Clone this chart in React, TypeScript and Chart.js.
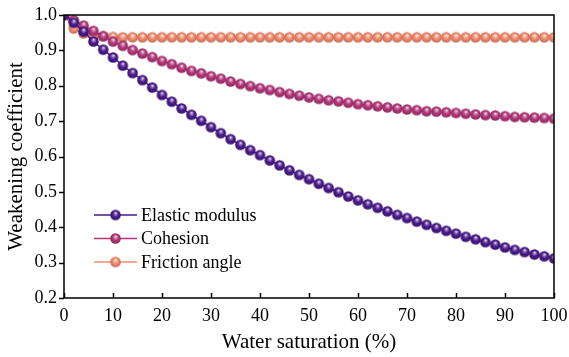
import React, { useEffect, useRef } from "react";
import { Chart, registerables } from "chart.js";

Chart.register(...registerables);

const saturation = [0, 2, 4, 6, 8, 10, 12, 14, 16, 18, 20, 22, 24, 26, 28, 30, 32, 34, 36, 38, 40, 42, 44, 46, 48, 50, 52, 54, 56, 58, 60, 62, 64, 66, 68, 70, 72, 74, 76, 78, 80, 82, 84, 86, 88, 90, 92, 94, 96, 98, 100];

const elasticModulus = [1.0, 0.978, 0.953, 0.925, 0.902, 0.88, 0.857, 0.836, 0.816, 0.795, 0.774, 0.755, 0.736, 0.718, 0.701, 0.683, 0.666, 0.649, 0.633, 0.618, 0.604, 0.589, 0.575, 0.561, 0.548, 0.536, 0.523, 0.511, 0.499, 0.487, 0.476, 0.465, 0.455, 0.445, 0.435, 0.426, 0.416, 0.407, 0.398, 0.39, 0.382, 0.373, 0.366, 0.358, 0.351, 0.343, 0.336, 0.33, 0.323, 0.318, 0.312];

const cohesion = [1.0, 0.985, 0.97, 0.955, 0.94, 0.925, 0.913, 0.901, 0.891, 0.881, 0.87, 0.861, 0.851, 0.842, 0.835, 0.827, 0.82, 0.812, 0.805, 0.799, 0.793, 0.788, 0.782, 0.777, 0.772, 0.767, 0.763, 0.759, 0.756, 0.752, 0.748, 0.745, 0.742, 0.739, 0.736, 0.733, 0.731, 0.728, 0.727, 0.725, 0.723, 0.721, 0.719, 0.717, 0.716, 0.714, 0.712, 0.711, 0.71, 0.709, 0.707];

const frictionAngle = [1.0, 0.962, 0.948, 0.942, 0.94, 0.938, 0.937, 0.937, 0.937, 0.937, 0.937, 0.937, 0.937, 0.937, 0.937, 0.937, 0.937, 0.937, 0.937, 0.937, 0.937, 0.937, 0.937, 0.937, 0.937, 0.937, 0.937, 0.937, 0.937, 0.937, 0.937, 0.937, 0.937, 0.937, 0.937, 0.937, 0.937, 0.937, 0.937, 0.937, 0.937, 0.937, 0.937, 0.937, 0.937, 0.937, 0.937, 0.937, 0.937, 0.937, 0.937];

const seriesLabels = ["Elastic modulus", "Cohesion", "Friction angle"];
const seriesColors = ["#4b1a8c", "#b3367a", "#f48a6e"];
const yTicks = [0.2, 0.3, 0.4, 0.5, 0.6, 0.7, 0.8, 0.9, 1.0];
const xTicks = [0, 10, 20, 30, 40, 50, 60, 70, 80, 90, 100];

const FONT = '"Liberation Serif", "Times New Roman", serif';

function hexToRgb(h: string) {
  const n = parseInt(h.slice(1), 16);
  return [(n >> 16) & 255, (n >> 8) & 255, n & 255];
}
function mix(a: string, b: string, t: number) {
  const A = hexToRgb(a), B = hexToRgb(b);
  const c = A.map((v, i) => Math.round(v + (B[i] - v) * t));
  return `rgb(${c[0]},${c[1]},${c[2]})`;
}

function makeSphere(color: string, r: number) {
  const size = Math.ceil(r * 2) + 2;
  const c = document.createElement("canvas");
  c.width = size;
  c.height = size;
  const g = c.getContext("2d")!;
  const cx = size / 2, cy = size / 2;
  const grad = g.createRadialGradient(cx + r * 0.05, cy - r * 0.4, 0, cx, cy, r);
  grad.addColorStop(0, "rgba(255,255,255,0.95)");
  grad.addColorStop(0.25, mix(color, "#ffffff", 0.4));
  grad.addColorStop(0.55, color);
  grad.addColorStop(1, mix(color, "#000000", 0.22));
  g.fillStyle = grad;
  g.beginPath();
  g.arc(cx, cy, r, 0, Math.PI * 2);
  g.fill();
  return c;
}

export default function App() {
  const ref = useRef<HTMLCanvasElement>(null);

  useEffect(() => {
    const canvas = ref.current!;
    const spheres = seriesColors.map((c) => makeSphere(c, 5.3));
    const seriesValues = [elasticModulus, cohesion, frictionAngle];

    const framePlugin = {
      id: "frame",
      afterDraw(chart: any) {
        const { ctx, chartArea: a, scales } = chart;
        ctx.save();
        ctx.strokeStyle = "#000";
        ctx.lineWidth = 1.5;
        ctx.strokeRect(a.left, a.top, a.right - a.left, a.bottom - a.top);
        ctx.beginPath();
        yTicks.forEach((v) => {
          const y = Math.round(scales.y.getPixelForValue(v)) + 0.5;
          ctx.moveTo(a.left - 5, y);
          ctx.lineTo(a.left, y);
        });
        xTicks.forEach((v) => {
          const x = Math.round(scales.x.getPixelForValue(v)) + 0.5;
          ctx.moveTo(x, a.bottom);
          ctx.lineTo(x, a.bottom - 5);
        });
        ctx.stroke();

        // legend
        ctx.font = `18px ${FONT}`;
        ctx.textBaseline = "middle";
        ctx.textAlign = "left";
        chart.data.datasets.forEach((ds: any, i: number) => {
          const y = 215 + i * 23.5;
          const x0 = a.left + 30;
          ctx.strokeStyle = ds.borderColor;
          ctx.lineWidth = 1.5;
          ctx.beginPath();
          ctx.moveTo(x0, y);
          ctx.lineTo(x0 + 43, y);
          ctx.stroke();
          const s = spheres[i];
          ctx.drawImage(s, x0 + 21.5 - s.width / 2, y - s.height / 2);
          ctx.fillStyle = "#000";
          ctx.fillText(ds.label, x0 + 47, y + 1);
        });
        ctx.restore();
      },
    };

    const chart = new Chart(canvas, {
      type: "line",
      data: {
        datasets: seriesLabels.map((label, i) => ({
          label,
          data: saturation.map((x, j) => ({ x, y: seriesValues[i][j] })),
          borderColor: seriesColors[i],
          backgroundColor: seriesColors[i],
          borderWidth: 1.5,
          pointStyle: spheres[i] as any,
          pointRadius: 5,
          pointHoverRadius: 5,
          tension: 0,
          fill: false,
        })),
      },
      options: {
        responsive: false,
        animation: false,
        events: [],
        layout: { padding: { top: 15, right: 15, left: 0, bottom: 0 } },
        plugins: { legend: { display: false }, tooltip: { enabled: false } },
        scales: {
          x: {
            type: "linear",
            min: 0,
            max: 100,
            grid: { display: false, drawTicks: false },
            border: { display: false },
            ticks: {
              stepSize: 10,
              padding: 7,
              color: "#000",
              font: { family: FONT, size: 18 },
              maxRotation: 0,
            },
            title: {
              display: true,
              text: "Water saturation (%)",
              color: "#000",
              font: { family: FONT, size: 21 },
              padding: { top: 0, bottom: 2 },
            },
            afterFit(scale: any) {
              scale.height = 59;
              scale.paddingLeft = 0;
              scale.paddingRight = 0;
            },
          },
          y: {
            type: "linear",
            min: 0.2,
            max: 1.0,
            grid: { display: false, drawTicks: false },
            border: { display: false },
            ticks: {
              stepSize: 0.1,
              padding: 7,
              color: "#000",
              font: { family: FONT, size: 18 },
              callback: (v: any) => Number(v).toFixed(1),
            },
            title: {
              display: true,
              text: "Weakening coefficient",
              color: "#000",
              font: { family: FONT, size: 21 },
              padding: { top: 4, bottom: 0 },
            },
            afterFit(scale: any) {
              scale.width = 64;
              scale.paddingTop = 0;
              scale.paddingBottom = 0;
            },
          },
        },
      },
      plugins: [framePlugin],
    });
    return () => chart.destroy();
  }, []);

  return (
    <div style={{ position: "fixed", left: 0, top: 0, width: 569, height: 357, background: "#fff" }}>
      <canvas ref={ref} width={569} height={357} style={{ display: "block" }} />
    </div>
  );
}
